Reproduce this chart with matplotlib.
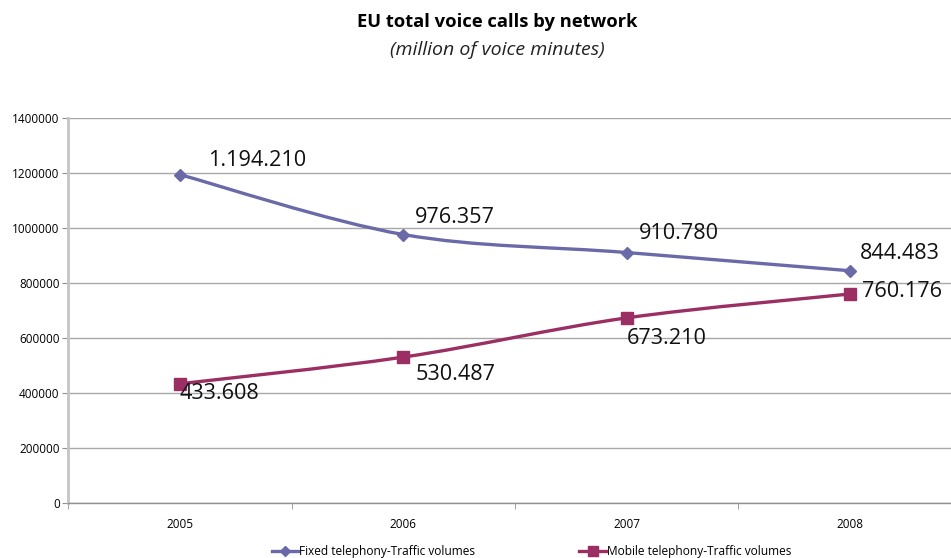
import matplotlib.pyplot as plt
import numpy as np
from matplotlib.path import Path
from matplotlib.patches import PathPatch
import matplotlib.ticker as ticker

## DATA ######################################################################
years = ['2005', '2006', '2007', '2008']
fixed = [1194210, 976357, 910780, 844483]
mobile = [433608, 530487, 673210, 760176]
fixed_labels = ['1.194.210', '976.357', '910.780', '844.483']
mobile_labels = ['433.608', '530.487', '673.210', '760.176']

FIXED_COL = '#6a6aa8'
MOBILE_COL = '#9b2f63'
plt.rcParams['font.family'] = ['Open Sans', 'DejaVu Sans']


def smooth_path(xs, ys, tension=0.5):
    '''Bezier path through the points, like the Excel "smoothed line".'''
    xs = np.asarray(xs, float)
    ys = np.asarray(ys, float)
    verts = [(xs[0], ys[0])]
    codes = [Path.MOVETO]
    n = len(xs)
    for i in range(n - 1):
        p0 = np.array([xs[max(i - 1, 0)], ys[max(i - 1, 0)]])
        p1 = np.array([xs[i], ys[i]])
        p2 = np.array([xs[i + 1], ys[i + 1]])
        p3 = np.array([xs[min(i + 2, n - 1)], ys[min(i + 2, n - 1)]])
        c1 = p1 + (p2 - p0) * tension / 3
        c2 = p2 - (p3 - p1) * tension / 3
        verts += [tuple(c1), tuple(c2), tuple(p2)]
        codes += [Path.CURVE4] * 3
    return Path(verts, codes)


fig = plt.figure(figsize=(9.51, 5.58), dpi=100)
ax = fig.add_axes([68 / 951, 55 / 558, 894 / 951, 385 / 558])

x = np.arange(len(years))
for vals, col, mk, ms in [(fixed, FIXED_COL, 'D', 6), (mobile, MOBILE_COL, 's', 8)]:
    ax.add_patch(PathPatch(smooth_path(x, vals), facecolor='none', edgecolor=col,
                           lw=2.4, zorder=3, capstyle='round'))
    ax.plot(x, vals, linestyle='none', marker=mk, ms=ms, color=col, zorder=4)

fixed_off = [(28, 14), (12, 17), (12, 19), (10, 17)]
mobile_off = [(0, -10), (12, -17), (0, -21), (12, 2)]
for i in range(len(years)):
    ax.annotate(fixed_labels[i], (x[i], fixed[i]), xytext=fixed_off[i],
                textcoords='offset pixels', fontsize=15.6, va='center', ha='left',
                color='#111111', zorder=5)
    ax.annotate(mobile_labels[i], (x[i], mobile[i]), xytext=mobile_off[i],
                textcoords='offset pixels', fontsize=15.6, va='center', ha='left',
                color='#111111', zorder=5)

ax.set_xlim(-0.5, 3.5)
ax.set_ylim(0, 1400000)
ax.yaxis.set_major_locator(ticker.MultipleLocator(200000))
ax.yaxis.set_major_formatter(ticker.FormatStrFormatter('%d'))
ax.set_xticks(x)
ax.set_xticklabels(years)
ax.set_xticks(np.arange(-0.5, 3.6, 1), minor=True)
ax.tick_params(axis='x', which='major', length=0, labelsize=8.5, pad=11)
ax.tick_params(axis='x', which='minor', length=4, color='#909090', direction='out')
ax.tick_params(axis='y', length=4, color='#909090', labelsize=8.5, pad=2)
ax.grid(axis='y', color='#a8a8a8', lw=1)
ax.set_axisbelow(True)
for s in ['top', 'right']:
    ax.spines[s].set_visible(False)
ax.spines['left'].set_color('#c4c4c4')
ax.spines['left'].set_linewidth(2)
ax.spines['bottom'].set_color('#909090')
ax.spines['bottom'].set_linewidth(1)

fig.text(0.523, 0.96, 'EU total voice calls by network', ha='center', va='center',
         fontsize=13.2, fontweight='bold')
fig.text(0.523, 0.91, '(million of voice minutes)', ha='center', va='center',
         fontsize=14, style='italic', color='#222222')

h1, = ax.plot([], [], color=FIXED_COL, marker='D', ms=5, lw=2.4)
h2, = ax.plot([], [], color=MOBILE_COL, marker='s', ms=7, lw=2.4)
fig.legend([h1, h2], ['Fixed telephony-Traffic volumes', 'Mobile telephony-Traffic volumes'],
           loc='center', bbox_to_anchor=(0.559, 0.012), ncol=2, frameon=False,
           fontsize=8.6, columnspacing=8.7, handlelength=2.2, handletextpad=0.1)

fig.savefig('out.png', dpi=100)
